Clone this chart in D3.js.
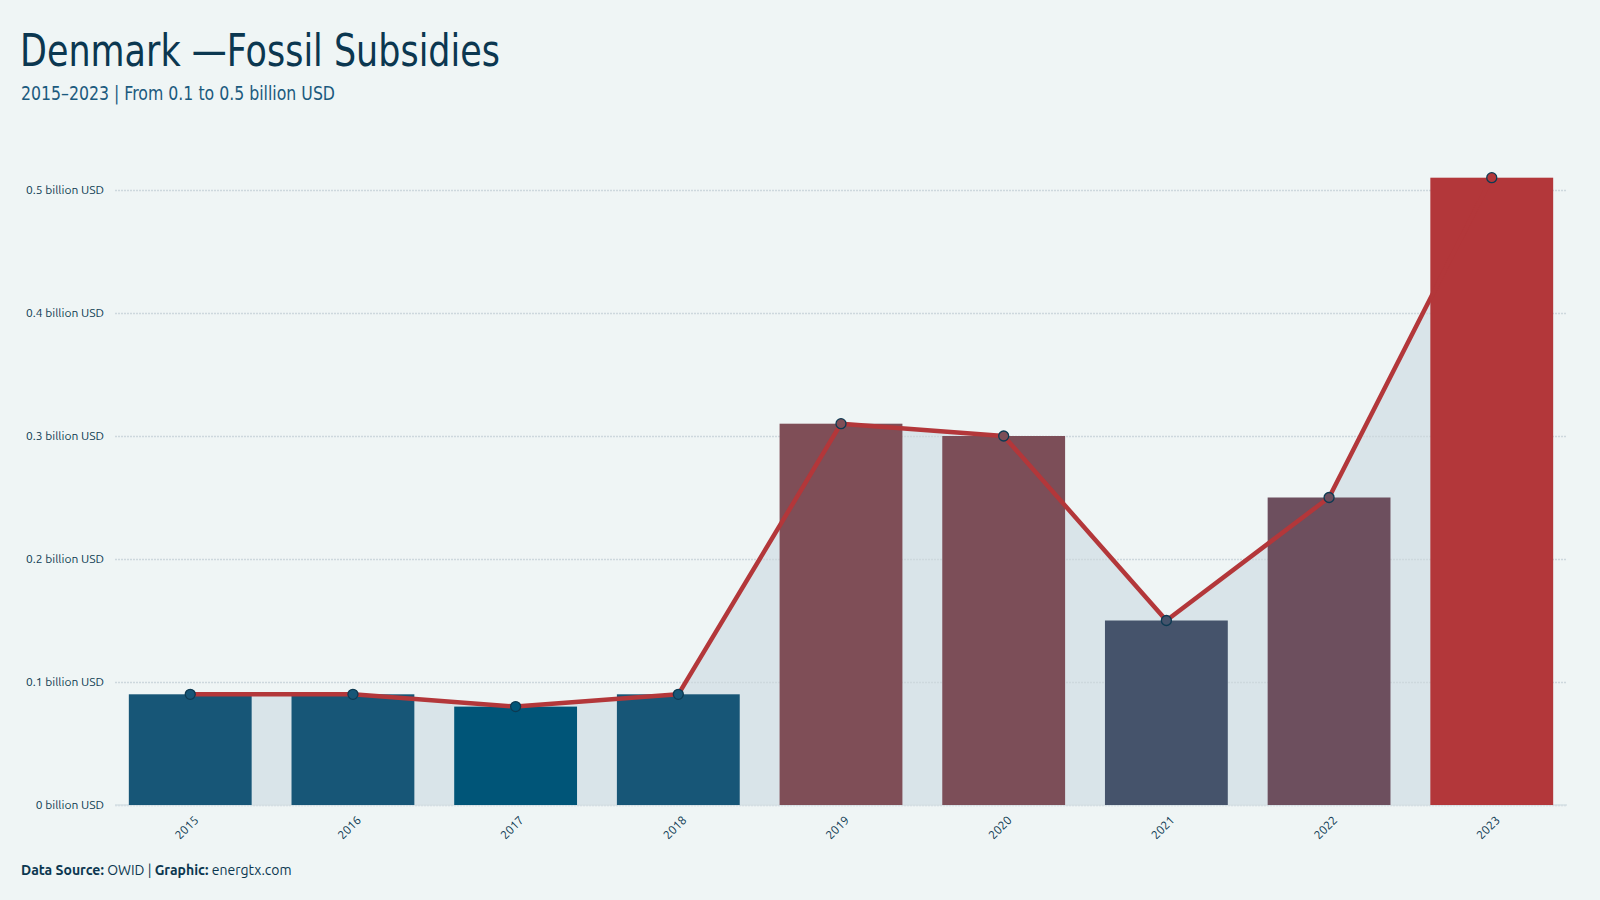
<!DOCTYPE html>
<html><head><meta charset="utf-8">
<style>
body { margin: 0; background: #eff5f5; }
svg { display: block; }
.grid line { stroke: #cdd8dd; stroke-dasharray: 2,1; stroke-width: 1.5; }
.grid .domain { display: none; }
</style>
</head>
<body>
<svg width="1600" height="900"></svg>
<script src="https://cdn.jsdelivr.net/npm/d3@7"></script>
<script>

var years = ["2015", "2016", "2017", "2018", "2019", "2020", "2021", "2022", "2023"];
var subsidies = [0.09, 0.09, 0.08, 0.09, 0.31, 0.30, 0.15, 0.25, 0.51];   // billion USD
var yTicks = [0, 0.1, 0.2, 0.3, 0.4, 0.5];

var data = years.map(function(y, i) { return { year: y, value: subsidies[i] }; });

var svg = d3.select("svg"),
    margin = {top: 190, right: 33, bottom: 95, left: 115},
    width = +svg.attr("width") - margin.left - margin.right,
    height = +svg.attr("height") - margin.top - margin.bottom;

var font = "Ubuntu, 'Noto Sans', sans-serif";
var condensed = "'Ubuntu Condensed', 'DejaVu Sans', sans-serif";

svg.append("rect").attr("width", 1600).attr("height", 900).attr("fill", "#eff5f5");

// title block (squeezed to mimic a condensed face)
svg.append("text")
    .attr("x", 20).attr("y", 66)
    .attr("font-family", condensed).attr("font-size", 44)
    .attr("fill", "#0b3750")
    .attr("textLength", 480).attr("lengthAdjust", "spacingAndGlyphs")
    .text("Denmark \u2014Fossil Subsidies");
svg.append("text")
    .attr("x", 21).attr("y", 100)
    .attr("font-family", condensed).attr("font-size", 19)
    .attr("fill", "#1b5a7e")
    .attr("textLength", 314).attr("lengthAdjust", "spacingAndGlyphs")
    .text("2015\u20132023 | From 0.1 to 0.5 billion USD");

var g = svg.append("g").attr("transform", "translate(" + margin.left + "," + margin.top + ")");

var x = d3.scaleBand()
    .domain(years)
    .range([0, width])
    .paddingInner(0.245)
    .paddingOuter(0.085);

var y = d3.scaleLinear()
    .domain([0, 0.5])
    .range([height, 0]);

// bar colours run from blue (low) to red (high)
var color = d3.scaleLinear()
    .domain([0.08, 0.09, 0.15, 0.25, 0.31, 0.51])
    .range(["#005578", "#175677", "#45536b", "#6d4f5e", "#7f4e57", "#b3373a"]);

// shaded area under the line
var area = d3.area()
    .x(function(d) { return x(d.year) + x.bandwidth() / 2; })
    .y0(height)
    .y1(function(d) { return y(d.value); });

g.append("path")
    .datum(data)
    .attr("fill", "#d9e4e9")
    .attr("d", area);

// grid
g.append("g")
    .attr("class", "grid")
    .call(d3.axisLeft(y).tickValues(yTicks).tickSize(-width).tickFormat(""));

g.append("line")
    .attr("x1", 0).attr("x2", width)
    .attr("y1", height).attr("y2", height)
    .attr("stroke", "#d6e0e5").attr("stroke-width", 1.5);

// y labels
g.selectAll(".ylab")
    .data(yTicks)
    .enter().append("text")
      .attr("class", "ylab")
      .attr("x", -11)
      .attr("y", function(d) { return y(d); })
      .attr("dy", "0.35em")
      .attr("text-anchor", "end")
      .attr("font-family", font).attr("font-size", 12)
      .attr("fill", "#0d3a52")
      .text(function(d) { return d3.format("~g")(d) + " billion USD"; });

// bars
g.selectAll(".bar")
    .data(data)
    .enter().append("rect")
      .attr("class", "bar")
      .attr("x", function(d) { return x(d.year); })
      .attr("width", x.bandwidth())
      .attr("y", function(d) { return y(d.value); })
      .attr("height", function(d) { return height - y(d.value); })
      .attr("fill", function(d) { return color(d.value); });

// line + markers
var line = d3.line()
    .x(function(d) { return x(d.year) + x.bandwidth() / 2; })
    .y(function(d) { return y(d.value); });

g.append("path")
    .datum(data)
    .attr("fill", "none")
    .attr("stroke", "#b3373a")
    .attr("stroke-width", 4.5)
    .attr("stroke-linejoin", "round")
    .attr("d", line);

g.selectAll(".dot")
    .data(data)
    .enter().append("circle")
      .attr("class", "dot")
      .attr("cx", function(d) { return x(d.year) + x.bandwidth() / 2; })
      .attr("cy", function(d) { return y(d.value); })
      .attr("r", 5)
      .attr("fill", function(d) { return color(d.value); })
      .attr("stroke", "#0d3a52")
      .attr("stroke-width", 1.3);

// x labels, rotated
g.selectAll(".xlab")
    .data(years)
    .enter().append("text")
      .attr("class", "xlab")
      .attr("transform", function(d) {
          return "translate(" + (x(d) + x.bandwidth() / 2 + 6) + "," + (height + 13) + ") rotate(-45)";
      })
      .attr("text-anchor", "end")
      .attr("dy", "0.35em")
      .attr("font-family", font).attr("font-size", 12)
      .attr("fill", "#0d3a52")
      .text(function(d) { return d; });

// footer
var foot = svg.append("text")
    .attr("x", 21).attr("y", 875)
    .attr("font-family", font).attr("font-size", 14)
    .attr("fill", "#0b3750");
foot.append("tspan").attr("font-weight", "bold").text("Data Source: ");
foot.append("tspan").text("OWID | ");
foot.append("tspan").attr("font-weight", "bold").text("Graphic: ");
foot.append("tspan").text("energtx.com");

</script>
</body></html>
